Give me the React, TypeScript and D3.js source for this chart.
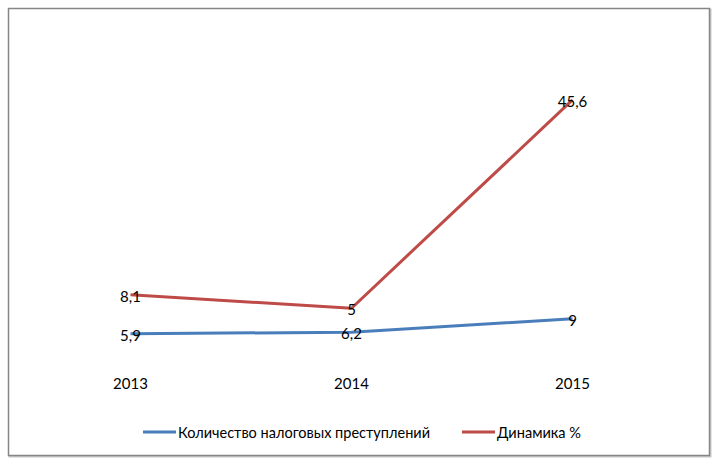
import React from "react";
import * as d3 from "d3";

const categories = ["2013", "2014", "2015"];
const crimes = [5.9, 6.2, 9];
const dynamics = [8.1, 5, 45.6];
const seriesNames = ["Количество налоговых преступлений", "Динамика %"];
const colors = ["#4A7EBB", "#BE4B48"];
const labelsCrimes = ["5,9", "6,2", "9"];
const labelsDyn = ["8,1", "5", "45,6"];

export default function App() {
  const W = 719, H = 465;
  const x = d3.scalePoint<string>().domain(categories).range([20, 683]).padding(0.5);
  const y = d3.scaleLinear().domain([0, 60]).range([362, 74]);
  const stacked1 = crimes;
  const stacked2 = crimes.map((v, i) => v + dynamics[i]);
  const line = d3.line<number>().x((_, i) => x(categories[i])!).y(d => y(d));
  const font = "Lato, 'Open Sans', sans-serif";
  const fs = 15;
  return (
    <svg width={W} height={H} style={{ position: "absolute", left: 0, top: 0 }} fontFamily={font}>
      <rect x={0} y={0} width={W} height={H} fill="#fff" />
      <rect x={9.5} y={9.5} width={701} height={447} fill="none" stroke="#c8c8c8" strokeWidth={2} />
      <rect x={8.5} y={8.5} width={701} height={447} fill="#fff" stroke="#868686" strokeWidth={1.5} />
      <path d={line(stacked1)!} fill="none" stroke={colors[0]} strokeWidth={3} strokeLinejoin="round" />
      <path d={line(stacked2)!} fill="none" stroke={colors[1]} strokeWidth={3} strokeLinejoin="round" />
      {categories.map((c, i) => (
        <text key={"l1" + c} x={x(c)!} y={y(stacked1[i]) + 1} textAnchor="middle" dominantBaseline="central" fontSize={fs} fill="#000">{labelsCrimes[i]}</text>
      ))}
      {categories.map((c, i) => (
        <text key={"l2" + c} x={x(c)!} y={y(stacked2[i]) + 1} textAnchor="middle" dominantBaseline="central" fontSize={fs} fill="#000">{labelsDyn[i]}</text>
      ))}
      {categories.map(c => (
        <text key={"x" + c} x={x(c)!} y={383} textAnchor="middle" dominantBaseline="central" fontSize={fs} fill="#000">{c}</text>
      ))}
      <line x1={143} x2={176} y1={432} y2={432} stroke={colors[0]} strokeWidth={3} />
      <text x={178} y={432} dominantBaseline="central" fontSize={fs} fill="#000" textLength={252} lengthAdjust="spacingAndGlyphs">{seriesNames[0]}</text>
      <line x1={462} x2={495} y1={432} y2={432} stroke={colors[1]} strokeWidth={3} />
      <text x={497} y={432} dominantBaseline="central" fontSize={fs} fill="#000" textLength={84} lengthAdjust="spacingAndGlyphs">{seriesNames[1]}</text>
    </svg>
  );
}
